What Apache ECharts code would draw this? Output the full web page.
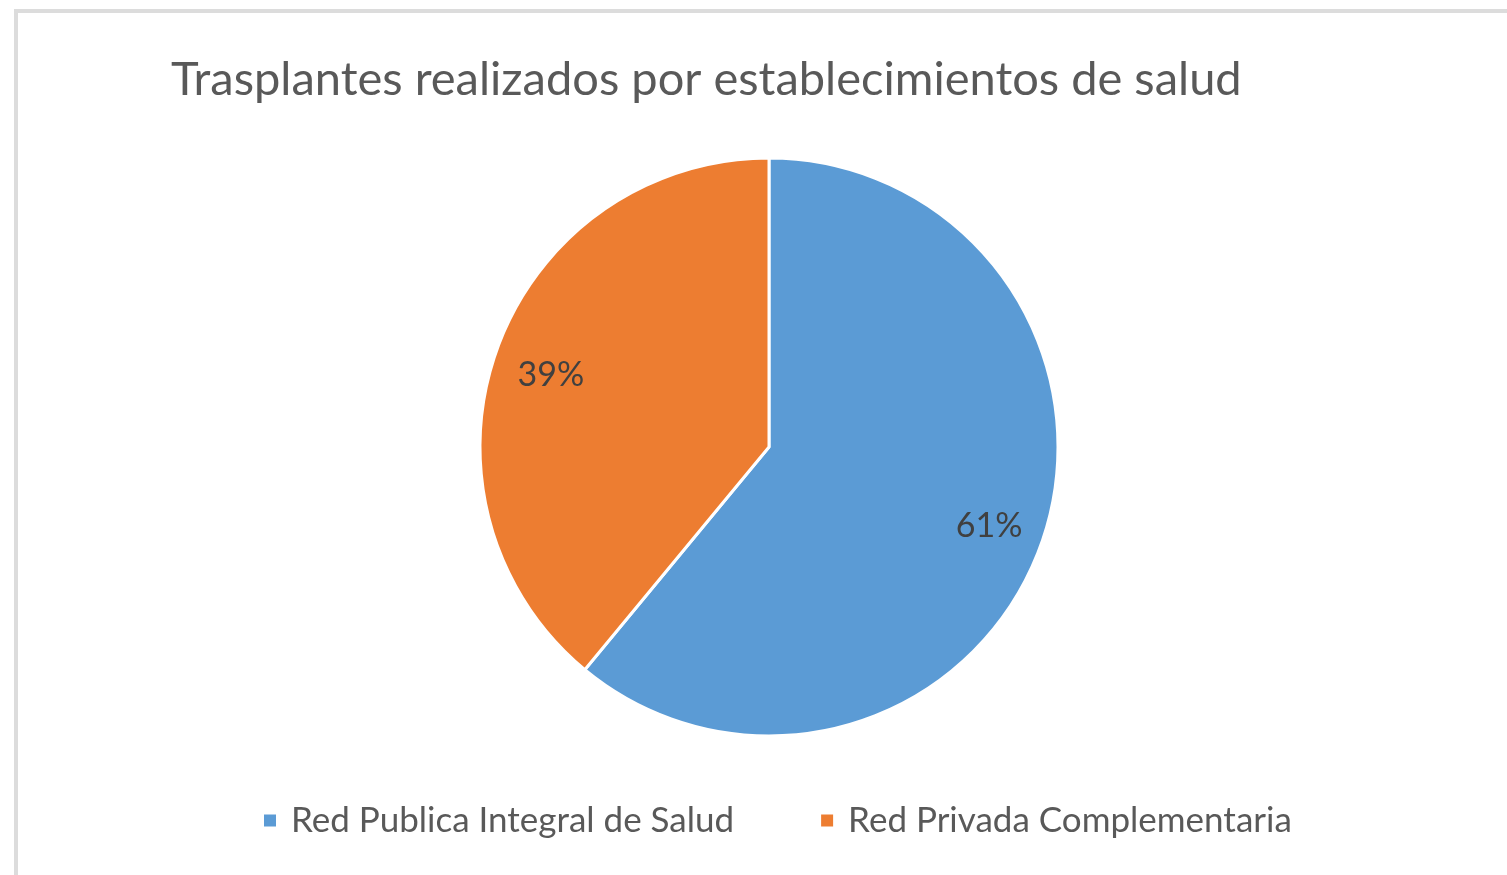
<!DOCTYPE html>
<html>
<head>
<meta charset="utf-8">
<title>Trasplantes realizados por establecimientos de salud</title>
<script src="https://cdn.jsdelivr.net/npm/echarts@6/dist/echarts.min.js"></script>
<style>
  html, body { margin: 0; padding: 0; background: #fff; }
  #chart { width: 1507px; height: 875px; }
</style>
</head>
<body>
<div id="chart"></div>
<script>
// datos
const categories = ['Red Publica Integral de Salud', 'Red Privada Complementaria']
const values = [61, 39]
const colors = ['#5B9BD5', '#ED7D31']
// pequeño ajuste de posición de cada etiqueta de porcentaje
const labelOffsets = [[0, 0], [2, 7]]

const FONT = 'Lato, "Noto Sans", sans-serif'

const chart = echarts.init(document.getElementById('chart'))

const pieData = categories.map((name, i) => ({
  name,
  value: values[i],
  itemStyle: { color: colors[i] }
}))

const option = {
  animation: false,
  title: {
    text: 'Trasplantes realizados por establecimientos de salud',
    left: 166,
    top: 51,
    textStyle: {
      fontFamily: FONT,
      fontSize: 47,
      fontWeight: 'normal',
      color: '#595959'
    }
  },
  legend: {
    left: 257,
    top: 798,
    icon: 'rect',
    itemWidth: 14,
    itemHeight: 14,
    itemGap: 85,
    data: categories,
    textStyle: {
      fontFamily: FONT,
      fontSize: 35,
      color: '#595959',
      padding: [0, 0, 0, 9]
    }
  },
  graphic: [
    {
      type: 'rect',
      shape: { x: 16, y: 11, width: 1700, height: 1000 },
      style: { fill: 'none', stroke: '#dcdcdc', lineWidth: 4 },
      silent: true
    }
  ],
  series: [
    {
      type: 'pie',
      center: [769, 447],
      radius: 289,
      startAngle: 90,
      clockwise: true,
      label: { show: false },
      labelLine: { show: false },
      itemStyle: { borderColor: '#fff', borderWidth: 3 },
      emphasis: { disabled: true },
      data: pieData
    },
    {
      // anillo transparente solo para ubicar las etiquetas de porcentaje
      type: 'pie',
      center: [769, 447],
      radius: [175, 287],
      startAngle: 90,
      clockwise: true,
      silent: true,
      itemStyle: { color: 'rgba(0,0,0,0)', borderWidth: 0 },
      emphasis: { disabled: true },
      label: {
        show: true,
        position: 'inside',
        formatter: '{d}%',
        fontFamily: FONT,
        fontSize: 34,
        color: '#404040'
      },
      labelLine: { show: false },
      data: categories.map((name, i) => ({
        name,
        value: values[i],
        label: { offset: labelOffsets[i] }
      }))
    }
  ]
}

chart.setOption(option)
window.addEventListener('resize', () => chart.resize())
</script>
</body>
</html>
